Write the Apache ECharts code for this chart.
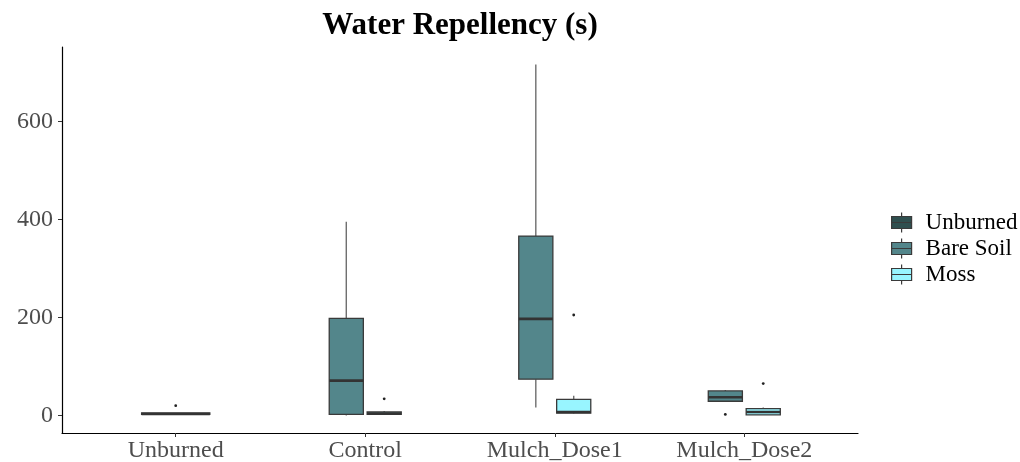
<!DOCTYPE html>
<html>
<head>
<meta charset="utf-8">
<script src="https://cdn.jsdelivr.net/npm/echarts@6/dist/echarts.min.js"></script>
<style>html,body{margin:0;padding:0;background:#fff;}#c{width:1020px;height:462px;}</style>
</head>
<body>
<div id="c"></div>
<script>
const categories = ['Unburned', 'Control', 'Mulch_Dose1', 'Mulch_Dose2'];
const groupNames = ['Unburned', 'Bare Soil', 'Moss'];
const yTicks = [0, 200, 400, 600];
// [categoryIndex, min, q1, median, q3, max]
const unburnedStats = [[0, 2, 2, 3, 5, 5]];
const bareSoilStats = [[1, 0, 2, 71, 198, 395], [2, 16, 74, 197, 366, 716], [3, 29, 29, 37, 50, 52]];
const mossStats = [[1, 1, 2, 4, 7, 9], [2, 4, 5, 7, 33, 40], [3, 1, 1, 7, 14, 16]];
// [categoryIndex, value]
const unburnedOutliers = [[0, 20]];
const bareSoilOutliers = [[3, 2]];
const mossOutliers = [[1, 34], [2, 205], [3, 65]];

const colors = ['#2F4F4F', '#53868B', '#98F5FF'];

function boxRender(offset, width) {
  return function (params, api) {
    const x = api.value(0) + 1 + offset;
    const fill = api.visual('color');
    const pMin = api.coord([x, api.value(1)]);
    const pQ1 = api.coord([x, api.value(2)]);
    const pMed = api.coord([x, api.value(3)]);
    const pQ3 = api.coord([x, api.value(4)]);
    const pMax = api.coord([x, api.value(5)]);
    const left = api.coord([x - width / 2, 0])[0];
    const right = api.coord([x + width / 2, 0])[0];
    return {
      type: 'group',
      children: [
        { type: 'line', shape: { x1: pMin[0], y1: pMin[1], x2: pQ1[0], y2: pQ1[1] }, style: { stroke: '#6e6e6e', lineWidth: 1.4 } },
        { type: 'line', shape: { x1: pQ3[0], y1: pQ3[1], x2: pMax[0], y2: pMax[1] }, style: { stroke: '#6e6e6e', lineWidth: 1.4 } },
        { type: 'rect', shape: { x: left, y: pQ3[1], width: right - left, height: pQ1[1] - pQ3[1] }, style: { fill: fill, stroke: '#3a3a3a', lineWidth: 1.3 } },
        { type: 'line', shape: { x1: left, y1: pMed[1], x2: right, y2: pMed[1] }, style: { stroke: '#333333', lineWidth: 2.6 } }
      ]
    };
  };
}
function outlierRender(offset) {
  return function (params, api) {
    const p = api.coord([api.value(0) + 1 + offset, api.value(1)]);
    return { type: 'circle', shape: { cx: p[0], cy: p[1], r: 1.4 }, style: { fill: '#222' } };
  };
}

const boxIcon = 'path://M10,0L10,4M0,4L20,4L20,16L0,16ZM0,10L20,10M10,16L10,20';

const chart = echarts.init(document.getElementById('c'), null, { renderer: 'canvas' });
chart.setOption({
  animation: false,
  backgroundColor: '#ffffff',
  title: {
    text: 'Water Repellency (s)',
    left: 455, top: 5, textAlign: 'center',
    textStyle: { fontFamily: 'Liberation Serif', fontWeight: 'bold', fontSize: 31, color: '#000' }
  },
  grid: { left: 62, right: 162, top: 47, bottom: 29, containLabel: false, outerBoundsMode: 'none' },
  legend: {
    orient: 'vertical', left: 886, top: 206,
    itemWidth: 20, itemHeight: 20, itemGap: 3,
    data: groupNames.map(n => ({ name: n, icon: boxIcon })),
    itemStyle: { borderColor: '#3a3a3a', borderWidth: 1.2 },
    textStyle: { fontFamily: 'Liberation Serif', fontSize: 23, color: '#000', padding: [0, 0, 0, 9] }
  },
  xAxis: {
    type: 'value', min: 0.4, max: 4.6,
    splitLine: { show: false },
    axisLine: { show: true, onZero: false, lineStyle: { color: '#000', width: 1.2 } },
    axisTick: { show: true, customValues: [1, 2, 3, 4], length: 4, lineStyle: { color: '#333' } },
    axisLabel: { customValues: [1, 2, 3, 4], margin: 6, formatter: v => categories[Math.round(v) - 1] || '',
      fontFamily: 'Liberation Serif', fontSize: 24, color: '#4D4D4D' }
  },
  yAxis: {
    type: 'value', min: -35.8, max: 751.8,
    splitLine: { show: false },
    axisLine: { show: true, onZero: false, lineStyle: { color: '#000', width: 1.2 } },
    axisTick: { show: true, customValues: yTicks, length: 4, lineStyle: { color: '#333' } },
    axisLabel: { customValues: yTicks, margin: 9, fontFamily: 'Liberation Serif', fontSize: 24, color: '#4D4D4D' }
  },
  series: [
    { name: 'Unburned', type: 'custom', renderItem: boxRender(0, 0.36), itemStyle: { color: colors[0] }, encode: { x: 0, y: [1, 5] }, data: unburnedStats },
    { name: 'Bare Soil', type: 'custom', renderItem: boxRender(-0.1, 0.18), itemStyle: { color: colors[1] }, encode: { x: 0, y: [1, 5] }, data: bareSoilStats },
    { name: 'Moss', type: 'custom', renderItem: boxRender(0.1, 0.18), itemStyle: { color: colors[2] }, encode: { x: 0, y: [1, 5] }, data: mossStats },
    { name: 'Unburned outliers', type: 'custom', renderItem: outlierRender(0), encode: { x: 0, y: 1 }, data: unburnedOutliers },
    { name: 'Bare Soil outliers', type: 'custom', renderItem: outlierRender(-0.1), encode: { x: 0, y: 1 }, data: bareSoilOutliers },
    { name: 'Moss outliers', type: 'custom', renderItem: outlierRender(0.1), encode: { x: 0, y: 1 }, data: mossOutliers }
  ]
});
</script>
</body>
</html>
